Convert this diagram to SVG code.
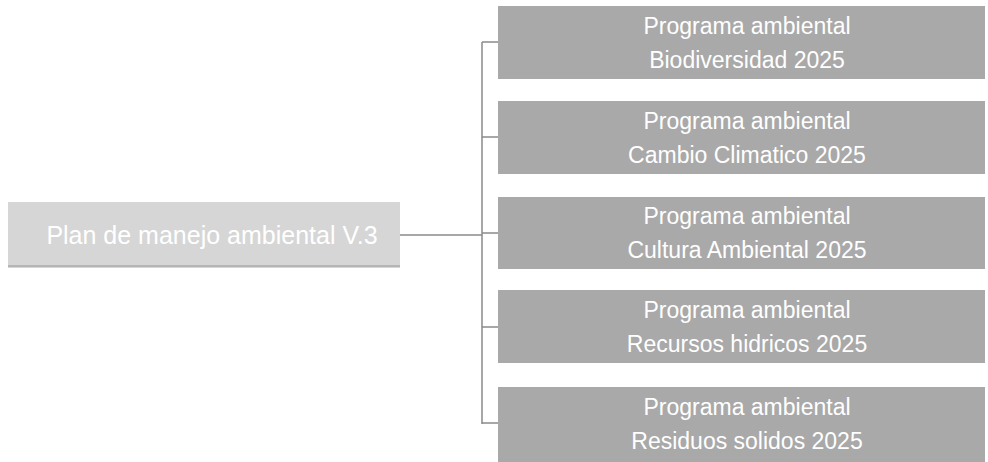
<svg xmlns="http://www.w3.org/2000/svg" width="988" height="462" viewBox="0 0 988 462">
<style>
.box{fill:#a9a9a9;}
.root{fill:#d6d6d6;}
.t{font-family:"Liberation Sans",Arial,sans-serif;font-size:23px;fill:#ffffff;text-anchor:middle;}
.rt{font-family:"Liberation Sans",Arial,sans-serif;font-size:25px;fill:#ffffff;text-anchor:middle;}
.c{stroke:#8a8a8a;stroke-width:1.5;fill:none;}
</style>
<rect width="988" height="462" fill="#ffffff"/>
<g id="connectors">
<path class="c" d="M400 235 H482"/>
<path class="c" d="M482 42 V424"/>
<path class="c" d="M482 42 H498 M482 137 H498 M482 233 H498 M482 327 H498 M482 423 H498"/>
</g>
<g id="root">
<rect class="root" x="8" y="202" width="392" height="66"/>
<line x1="8" y1="266" x2="400" y2="266" stroke="#b5b5b5" stroke-width="2"/>
<text class="rt" x="212" y="244">Plan de manejo ambiental V.3</text>
</g>
<g id="n1">
<rect class="box" x="498" y="6" width="487" height="73"/>
<text class="t" x="747" y="34">Programa ambiental</text>
<text class="t" x="747" y="68">Biodiversidad 2025</text>
</g>
<g id="n2">
<rect class="box" x="498" y="101" width="487" height="73"/>
<text class="t" x="747" y="129">Programa ambiental</text>
<text class="t" x="747" y="163">Cambio Climatico 2025</text>
</g>
<g id="n3">
<rect class="box" x="498" y="197" width="487" height="72"/>
<text class="t" x="747" y="224">Programa ambiental</text>
<text class="t" x="747" y="258">Cultura Ambiental 2025</text>
</g>
<g id="n4">
<rect class="box" x="498" y="290" width="487" height="73"/>
<text class="t" x="747" y="318">Programa ambiental</text>
<text class="t" x="747" y="352">Recursos hidricos 2025</text>
</g>
<g id="n5">
<rect class="box" x="498" y="387" width="487" height="75"/>
<text class="t" x="747" y="415">Programa ambiental</text>
<text class="t" x="747" y="449">Residuos solidos 2025</text>
</g>
</svg>
